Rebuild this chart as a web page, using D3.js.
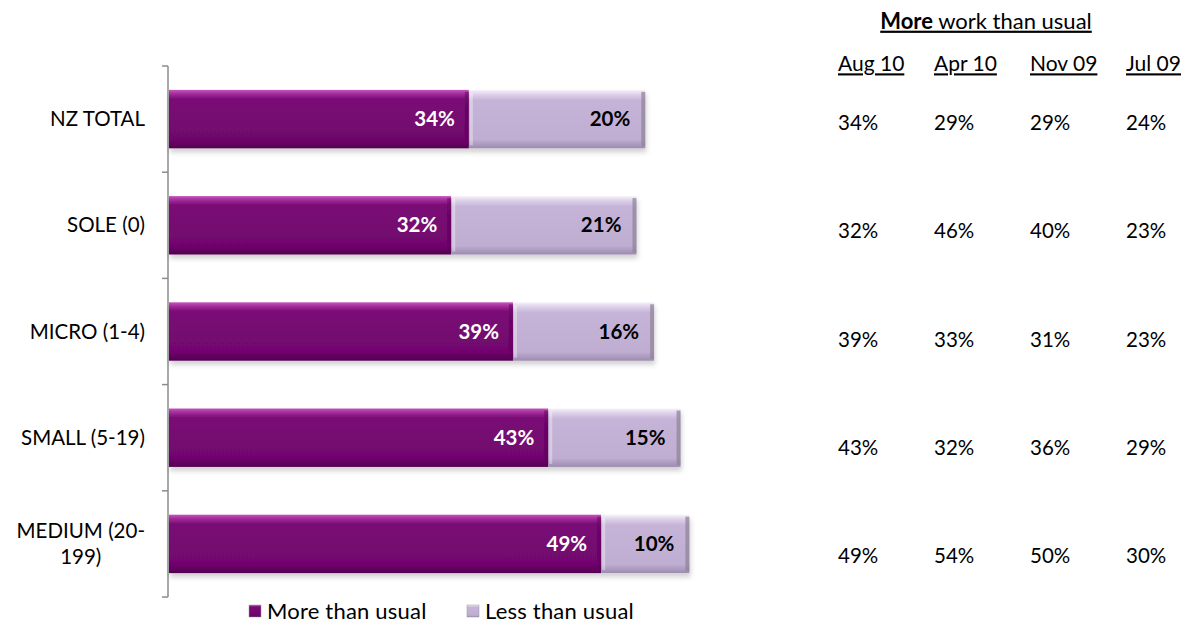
<!DOCTYPE html>
<html>
<head>
<meta charset="utf-8">
<script src="https://cdn.jsdelivr.net/npm/d3@7"></script>
<style>
  html, body { margin: 0; padding: 0; background: #fff; }
  svg { display: block; font-family: Lato, "Open Sans", sans-serif; }
</style>
</head>
<body>
<svg id="chart" width="1192" height="624"></svg>
<script>
// Business size groups and the share of firms reporting more / less work than usual
const categories = ["NZ TOTAL", "SOLE (0)", "MICRO (1-4)", "SMALL (5-19)", "MEDIUM (20-199)"];
const moreThanUsual = [34, 32, 39, 43, 49];
const lessThanUsual = [20, 21, 16, 15, 10];

// "More work than usual" history by survey wave
const waves = ["Aug 10", "Apr 10", "Nov 09", "Jul 09"];
const histAug10 = [34, 32, 39, 43, 49];
const histApr10 = [29, 46, 33, 32, 54];
const histNov09 = [29, 40, 31, 36, 50];
const histJul09 = [24, 23, 23, 29, 30];

const seriesNames = ["More than usual", "Less than usual"];

const FS = 20.5;
const svg = d3.select("#chart");
const defs = svg.append("defs");

// glossy bar fills
function gradient(id, stops) {
  const g = defs.append("linearGradient").attr("id", id)
    .attr("x1", 0).attr("y1", 0).attr("x2", 0).attr("y2", 1);
  stops.forEach(([o, c]) => g.append("stop").attr("offset", o).attr("stop-color", c));
}
gradient("gMore", [[0, "#c554bd"], [0.07, "#a02c99"], [0.16, "#7a0a75"], [0.85, "#71066e"], [1, "#520450"]]);
gradient("gLess", [[0, "#f6f2fa"], [0.08, "#ddd0e8"], [0.18, "#c6b4d8"], [0.85, "#bfadd2"], [1, "#9c8cae"]]);
const sh = defs.append("filter").attr("id", "shadow")
  .attr("x", "-5%").attr("y", "-20%").attr("width", "110%").attr("height", "150%");
sh.append("feDropShadow").attr("dx", 1).attr("dy", 4).attr("stdDeviation", 2.5)
  .attr("flood-color", "#000").attr("flood-opacity", 0.18);

const x = d3.scaleLinear().domain([0, 100]).range([169, 1051]);
const y = d3.scaleBand().domain(categories).range([66, 597])
  .paddingInner(0.45).paddingOuter(0.225);

// vertical category axis with tick marks between bands
const axisG = svg.append("g").attr("transform", `translate(${x(0) - 1},0)`);
const bounds = [y.range()[0]].concat(categories.map(c => y(c) - y.step() * y.paddingInner() / 2 + y.step()));
axisG.append("line").attr("y1", y.range()[0]).attr("y2", y.range()[1])
  .attr("stroke", "#8c8c8c").attr("stroke-width", 1.5);
axisG.selectAll(".tk").data(bounds).join("line")
  .attr("x1", -6).attr("x2", 0).attr("y1", d => d).attr("y2", d => d)
  .attr("stroke", "#8c8c8c").attr("stroke-width", 1.5);

// category labels, wrapped when too wide
const labelRight = 145;
categories.forEach(c => {
  const cy = y(c) + y.bandwidth() / 2;
  const t = svg.append("text").attr("font-size", FS).attr("fill", "#000")
    .attr("text-anchor", "end").attr("x", labelRight).attr("y", cy).attr("dy", "0.35em").text(c);
  if (t.node().getComputedTextLength() > 140) {
    const cut = c.indexOf("-") + 1;
    const lines = [c.slice(0, cut), c.slice(cut)];
    t.text(null);
    const tmp = svg.append("text").attr("font-size", FS).text(lines[0]);
    const w = tmp.node().getComputedTextLength();
    tmp.remove();
    t.attr("text-anchor", "middle").attr("x", labelRight - w / 2).attr("y", null).attr("dy", null);
    lines.forEach((ln, i) => t.append("tspan").attr("x", labelRight - w / 2)
      .attr("y", cy + (i - (lines.length - 1) / 2) * 26).attr("dy", "0.35em").text(ln));
  }
});

// stacked bars
const rows = categories.map((c, i) => ({ c, more: moreThanUsual[i], less: lessThanUsual[i] }));
const barG = svg.append("g");
rows.forEach(r => {
  const g = barG.append("g").attr("filter", "url(#shadow)");
  g.append("rect").attr("x", x(0)).attr("y", y(r.c))
    .attr("width", x(r.more) - x(0)).attr("height", y.bandwidth()).attr("fill", "url(#gMore)");
  g.append("rect").attr("x", x(r.more)).attr("y", y(r.c))
    .attr("width", x(r.more + r.less) - x(r.more)).attr("height", y.bandwidth()).attr("fill", "url(#gLess)");
  // bevel edges
  g.append("rect").attr("x", x(r.more) - 4).attr("y", y(r.c) + 2)
    .attr("width", 4).attr("height", y.bandwidth() - 4).attr("fill", "#5e0459").attr("opacity", 0.5);
  g.append("rect").attr("x", x(r.more + r.less) - 4).attr("y", y(r.c) + 2)
    .attr("width", 4).attr("height", y.bandwidth() - 4).attr("fill", "#8d8296").attr("opacity", 0.7);
  g.append("rect").attr("x", x(r.more) + 1).attr("y", y(r.c) + 3)
    .attr("width", 3).attr("height", y.bandwidth() - 6).attr("fill", "#ffffff").attr("opacity", 0.35);
});

// value labels inside bars
rows.forEach(r => {
  const cy = y(r.c) + y.bandwidth() / 2;
  svg.append("text").attr("x", x(r.more) - 14).attr("y", cy).attr("dy", "0.35em")
    .attr("text-anchor", "end").attr("font-size", FS).attr("font-weight", 700)
    .attr("fill", "#fff").text(r.more + "%");
  svg.append("text").attr("x", x(r.more + r.less) - 15).attr("y", cy).attr("dy", "0.35em")
    .attr("text-anchor", "end").attr("font-size", FS).attr("font-weight", 700)
    .attr("fill", "#000").text(r.less + "%");
});

// legend
const legend = [
  { name: seriesNames[0], fill: "url(#gMore)", x: 249 },
  { name: seriesNames[1], fill: "url(#gLess)", x: 467 }
];
legend.forEach(l => {
  svg.append("rect").attr("x", l.x).attr("y", 605).attr("width", 12).attr("height", 12)
    .attr("fill", l.fill).attr("stroke", "#999").attr("stroke-width", 0.5);
  svg.append("text").attr("x", l.x + 18).attr("y", 611).attr("dy", "0.35em")
    .attr("font-size", 22).attr("letter-spacing", 0.2).attr("fill", "#000").text(l.name);
});

// history table on the right
const title = svg.append("text").attr("x", 986).attr("y", 21).attr("dy", "0.35em")
  .attr("text-anchor", "middle").attr("font-size", 22).attr("text-decoration", "underline");
title.append("tspan").attr("font-weight", 700).text("More");
title.append("tspan").text(" work than usual");

const colX = d3.scalePoint().domain(waves).range([838, 1126]);
const rowY = d3.scalePoint().domain(categories).range([123, 556]);
svg.selectAll(".wave").data(waves).join("text")
  .attr("x", d => colX(d)).attr("y", 64).attr("dy", "0.35em")
  .attr("font-size", 21).attr("text-decoration", "underline").text(d => d);

const hist = [histAug10, histApr10, histNov09, histJul09];
waves.forEach((w, j) => {
  categories.forEach((c, i) => {
    svg.append("text").attr("x", colX(w)).attr("y", rowY(c)).attr("dy", "0.35em")
      .attr("font-size", FS).text(hist[j][i] + "%");
  });
});
</script>
</body>
</html>
